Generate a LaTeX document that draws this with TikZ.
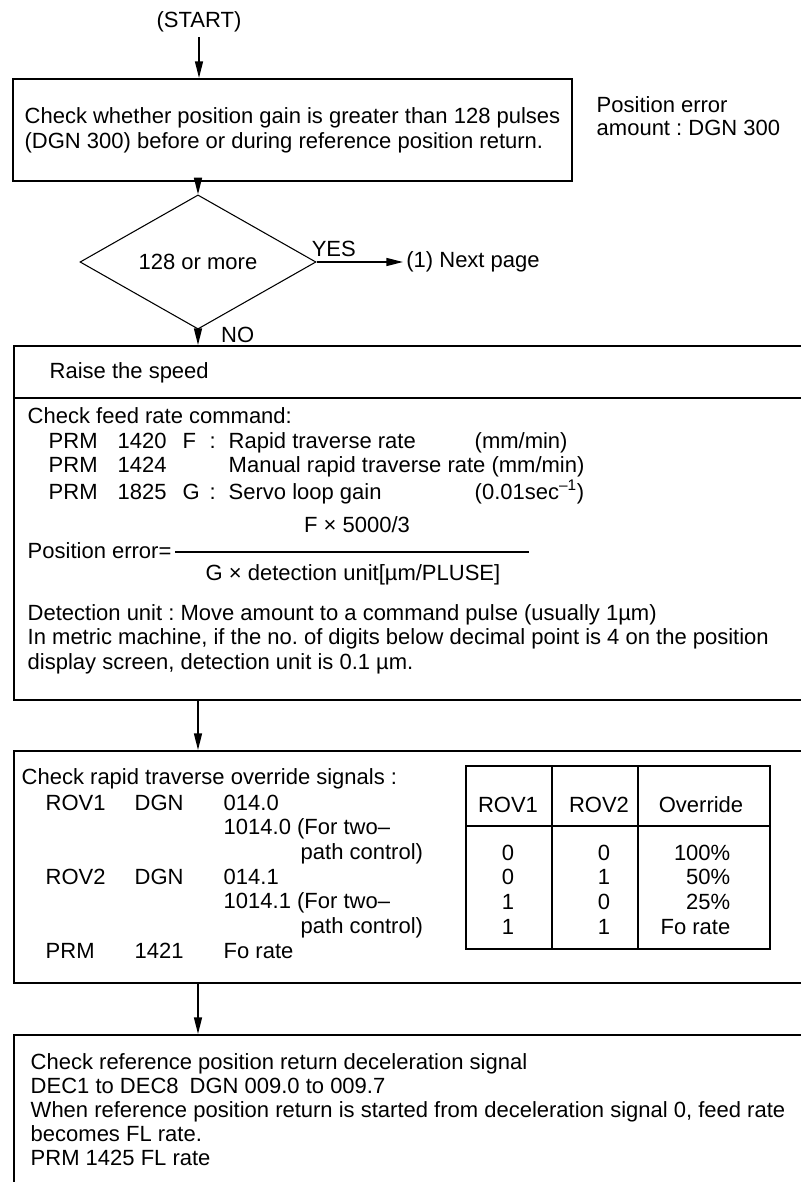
\documentclass[tikz,border=0pt]{standalone}
\usepackage{fontspec}
\setmainfont{Liberation Sans}
\usetikzlibrary{arrows.meta,shapes.geometric}

\tikzset{
  box/.style={draw, line width=1.2pt, minimum width=612.75pt, anchor=north west, inner sep=0pt},
  txt/.style={anchor=base west, inner sep=0pt},
}

\begin{document}
\frenchspacing
\begin{tikzpicture}[x=0.75pt, y=-0.75pt, >={Triangle[length=12.5pt,width=6pt]}, line width=1.1pt,
  font=\fontsize{16.5}{18.5}\selectfont]
\useasboundingbox (0,0) rectangle (800,1182);

\node (start) at (199,22) {(START)};
\node[draw, line width=1.6pt, minimum width=419.25pt, minimum height=76.5pt, align=left] (chk) at (292.5,130)
  {Check whether position gain is greater than 128 pulses\\(DGN 300) before or during reference position return.};
\node[anchor=west, align=left, inner sep=0pt, font=\fontsize{16.5}{17.5}\selectfont] (note) at (596,116)
  {Position error\\amount : DGN 300};
\node[diamond, draw, line width=0.8pt, minimum width=177pt, minimum height=75pt, inner sep=0pt] (gain) at (198,262) {128 or more};
\node[anchor=west, inner sep=2pt] (nxt) at (403,262) {(1) Next page};

\draw[->] (start) -- (start |- chk.north);
\draw[->] (gain.north |- chk.south) -- (gain.north);
\draw[->] (gain.east) -- node[above, pos=0.2] {YES} (nxt.west);

% raise the speed
\node[box, minimum height=39pt] (raise) at (13,345) {};
\node[box, minimum height=226.5pt] (feed) at (13,397) {};
\draw[->] (gain.south) -- node[right=13.5pt, pos=0.35] {NO} (gain.south |- raise.north);
\node[txt] (rs) at (49,378) {Raise the speed};
\node[txt] (cf) at (27,423) {Check feed rate command:};
\node[txt] (prm) at (48,448) {\begin{tabular}[t]{@{}p{51.75pt}@{}p{48.75pt}@{}p{20.25pt}@{}p{14.25pt}@{}p{184.5pt}@{}l@{}}
PRM & 1420 & F & : & Rapid traverse rate & (mm/min)\\
PRM & 1424 & & & \multicolumn{2}{@{}l@{}}{Manual rapid traverse rate (mm/min)}\\
PRM & 1825 & G & : & Servo loop gain & (0.01sec\textsuperscript{–1})
\end{tabular}};
\node[txt] (perr) at (27,558) {Position error=};
\node (num) at (357,525) {F × 5000/3};
\node (den) at (353,575) {G × detection unit[µm/PLUSE]};
\draw[line width=0.9pt] (175,552) -- (529,552);
\node[txt] (du) at (27,620) {\begin{tabular}[t]{@{}l@{}}
Detection unit : Move amount to a command pulse (usually 1µm)\\
In metric machine, if the no. of digits below decimal point is 4 on the position\\
display screen, detection unit is 0.1 µm.
\end{tabular}};

% override signals
\node[box, minimum height=174pt] (rov) at (13,750) {};
\draw[->] (gain.south |- feed.south) -- (gain.south |- rov.north);
\node[txt] (crt) at (21,784) {Check rapid traverse override signals :};
\node[txt] (sig) at (45,810) {\begin{tabular}[t]{@{}p{66.75pt}@{}p{66.75pt}@{}l@{}}
ROV1 & DGN & 014.0\\
 & & 1014.0 (For two–\\
 & & \hspace{57.75pt}path control)\\
ROV2 & DGN & 014.1\\
 & & 1014.1 (For two–\\
 & & \hspace{57.75pt}path control)\\
PRM & 1421 & Fo rate
\end{tabular}};
\draw[line width=1.2pt] (466,766) rectangle (770,949) (466,826) -- (770,826)
  (552,766) -- (552,949) (638,766) -- (638,949);
\node (h1) at (508,805) {ROV1};
\node (h2) at (599,805) {ROV2};
\node (h3) at (701,805) {Override};
\node[anchor=base, inner sep=0pt] (c1) at (508,860) {\begin{tabular}[t]{@{}c@{}}0\\0\\1\\1\end{tabular}};
\node[anchor=base, inner sep=0pt] (c2) at (604,860) {\begin{tabular}[t]{@{}c@{}}0\\1\\0\\1\end{tabular}};
\node[anchor=base east, inner sep=0pt] (c3) at (731,860) {\begin{tabular}[t]{@{}r@{}}100\%\\50\%\\25\%\\Fo rate\end{tabular}};

% deceleration signal
\node[box, minimum height=162pt] (dcl) at (13,1034) {};
\draw[->] (gain.south |- rov.south) -- (gain.south |- dcl.north);
\node[txt, font=\fontsize{16.5}{18}\selectfont] (dct) at (30,1069) {\begin{tabular}[t]{@{}l@{}}
Check reference position return deceleration signal\\
DEC1 to DEC8\enspace DGN 009.0 to 009.7\\
When reference position return is started from deceleration signal 0, feed rate\\
becomes FL rate.\\
PRM 1425 FL rate
\end{tabular}};
\end{tikzpicture}
\end{document}
